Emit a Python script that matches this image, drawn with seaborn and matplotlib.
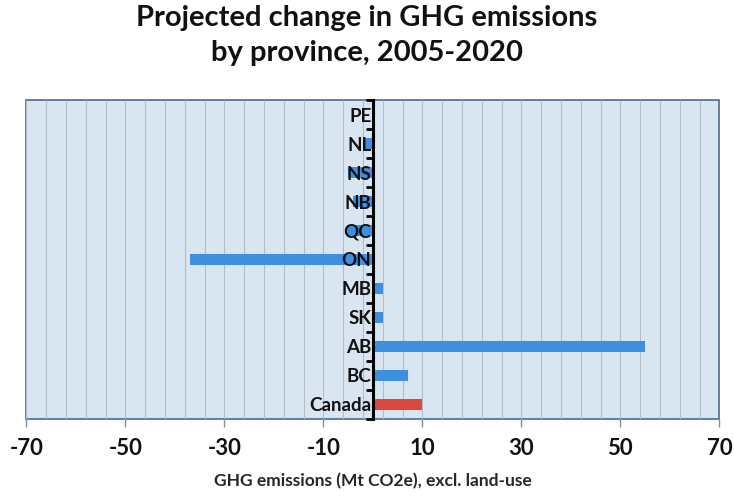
import numpy as np
import pandas as pd
import matplotlib.pyplot as plt
import matplotlib.ticker as ticker
import seaborn as sns

# Data
provinces = ["PE", "NL", "NS", "NB", "QC", "ON", "MB", "SK", "AB", "BC", "Canada"]
change_mt = [0, -2, -5, -4, -5, -37, 2, 2, 55, 7, 10]
bar_colors = ["#3F8FE0"] * 10 + ["#D8483C"]

x_major = list(range(-70, 71, 20))
x_grid = list(range(-70, 71, 4))

df = pd.DataFrame({"province": provinces, "change": change_mt})

sns.set_theme(style="white")
plt.rcParams["font.family"] = ["Lato", "DejaVu Sans"]
plt.rcParams["font.weight"] = "bold"
plt.rcParams["axes.unicode_minus"] = False
plt.rcParams["text.color"] = "#111111"
plt.rcParams["xtick.color"] = "#111111"
plt.rcParams["ytick.color"] = "#111111"

fig = plt.figure(figsize=(7.34, 4.98), dpi=100)
ax = fig.add_axes([0.036, 0.159, 0.944, 0.640])

sns.barplot(data=df, x="change", y="province", hue="province",
            palette=bar_colors, legend=False, orient="h", width=0.36,
            saturation=1, linewidth=0, ax=ax)

ax.set_xlim(-70, 70)
ax.set_ylim(len(provinces) - 0.5, -0.5)

# background and outer frame
ax.set_facecolor("#DAE5F2")
ax.patch.set_edgecolor("#4C6A8C")
ax.patch.set_linewidth(1.2)
for side in ["top", "right", "bottom"]:
    ax.spines[side].set_visible(False)

# gridlines every 4 units, kept under the bars
ax.vlines(x_grid, -0.5, len(provinces) - 0.5, color="#B3BECB",
          linewidth=0.8, zorder=0.5)

ax.xaxis.set_major_locator(ticker.FixedLocator(x_major))
ax.tick_params(axis="x", which="major", direction="out", length=6, width=1,
               color="#7F8FA3", labelcolor="#111111", labelsize=16, pad=8,
               bottom=True)

# zero axis with category labels, drawn above the bars
ax.spines["left"].set_position(("data", 0))
ax.spines["left"].set_color("black")
ax.spines["left"].set_linewidth(2.2)
ax.yaxis.set_minor_locator(ticker.FixedLocator(np.arange(-0.5, len(provinces), 1.0)))
ax.tick_params(axis="y", which="major", length=0, labelsize=13.5, pad=1)
ax.tick_params(axis="y", which="minor", direction="out", length=5, width=2,
               color="black", left=True)
ax.set_axisbelow(False)

ax.set_ylabel("")
ax.set_xlabel("GHG emissions (Mt CO2e), excl. land-use", fontsize=12.5,
              fontweight="bold", labelpad=10)

fig.suptitle("Projected change in GHG emissions\nby province, 2005-2020",
             fontsize=21, fontweight="bold", y=0.99, linespacing=1.45)

fig.savefig("out.png", dpi=100)
